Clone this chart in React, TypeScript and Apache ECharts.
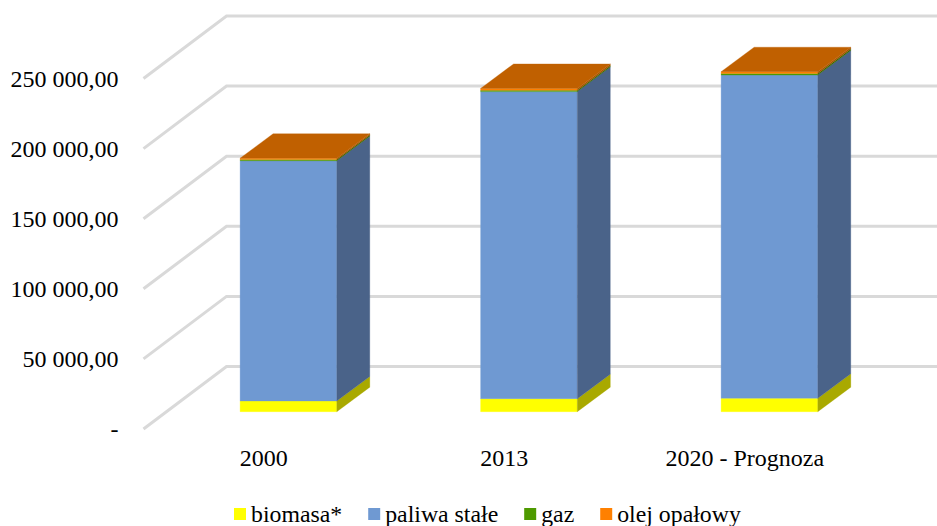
import React, { useEffect, useRef } from "react";
import * as echarts from "echarts";

const categories = ["2000", "2013", "2020 - Prognoza"];
const biomasa = [7600, 9300, 9600];
const paliwaStale = [171400, 219000, 230500];
const gaz = [800, 1000, 1200];
const olej = [1000, 1300, 1200];
const seriesNames = ["biomasa*", "paliwa stałe", "gaz", "olej opałowy"];
const seriesColors = ["#ffff00", "#6f99d2", "#4e9a00", "#ff8000"];
const sideColors = ["#a9a900", "#4a6389", "#356800", "#a95500"];
const topColors = ["#bfbf00", "#5373a0", "#3a7400", "#c06000"];
const gridValues = [0, 50000, 100000, 150000, 200000, 250000];
const tickLabels = ["-", "50 000,00", "100 000,00", "150 000,00", "200 000,00", "250 000,00"];

const FONT = "'Liberation Serif', 'Times New Roman', serif";
const WALL_DX = 83;
const WALL_DY = -62.5;
const BAR_OFF_X = 24.7;
const BAR_OFF_Y = -17.3;
const BAR_DEPTH_X = 33;
const BAR_DEPTH_Y = -24.5;
const BAR_RATIO = 0.402;

export default function App() {
  const ref = useRef<HTMLDivElement>(null);
  useEffect(() => {
    if (!ref.current) return;
    const chart = echarts.init(ref.current, undefined, { renderer: "svg" });
    const all = [biomasa, paliwaStale, gaz, olej];
    const series: any[] = [
      {
        type: "custom",
        silent: true,
        z: 1,
        data: gridValues.map((v) => [0, v]),
        encode: { x: 0, y: 1 },
        renderItem: (params: any, api: any) => {
          const cs = params.coordSys;
          const y = api.coord([0, api.value(1)])[1];
          return {
            type: "polyline",
            shape: {
              points: [
                [cs.x, y],
                [cs.x + WALL_DX, y + WALL_DY],
                [cs.x + cs.width + WALL_DX, y + WALL_DY],
              ],
            },
            style: { fill: "none", stroke: "#d9d9d9", lineWidth: 3 },
          };
        },
      },
    ];
    all.forEach((vals, si) => {
      series.push({
        type: "custom",
        name: seriesNames[si],
        z: 2 + si,
        itemStyle: { color: seriesColors[si] },
        data: vals.map((v, i) => {
          let base = 0;
          for (let k = 0; k < si; k++) base += all[k][i];
          return [i, base + v, base];
        }),
        encode: { x: 0, y: 1 },
        renderItem: (_p: any, api: any) => {
          const i = api.value(0);
          const t = api.coord([i, api.value(1)]);
          const b = api.coord([i, api.value(2)]);
          const w = api.size([1, 0])[0] * BAR_RATIO;
          const x0 = t[0] + BAR_OFF_X - w / 2;
          const x1 = x0 + w;
          const yt = t[1] + BAR_OFF_Y;
          const yb = b[1] + BAR_OFF_Y;
          const poly = (points: number[][], fill: string) => ({
            type: "polygon",
            shape: { points },
            style: { fill, stroke: fill, lineWidth: 0.3 },
          });
          const children: any[] = [
            poly([[x0, yb], [x1, yb], [x1, yt], [x0, yt]], seriesColors[si]),
            poly(
              [
                [x1, yb],
                [x1 + BAR_DEPTH_X, yb + BAR_DEPTH_Y],
                [x1 + BAR_DEPTH_X, yt + BAR_DEPTH_Y],
                [x1, yt],
              ],
              sideColors[si]
            ),
          ];
          if (si === all.length - 1) {
            children.push(
              poly(
                [
                  [x0, yt],
                  [x1, yt],
                  [x1 + BAR_DEPTH_X, yt + BAR_DEPTH_Y],
                  [x0 + BAR_DEPTH_X, yt + BAR_DEPTH_Y],
                ],
                topColors[si]
              )
            );
          }
          return { type: "group", children };
        },
      });
    });
    chart.setOption({
      animation: false,
      backgroundColor: "#ffffff",
      grid: { left: 143.5, top: 78.5, width: 721.5, height: 350.5 },
      xAxis: {
        type: "category",
        data: categories,
        axisLine: { show: false },
        axisTick: { show: false },
        splitLine: { show: false },
        axisLabel: { color: "#000000", fontFamily: FONT, fontSize: 24, margin: 17 },
      },
      yAxis: {
        type: "value",
        min: 0,
        max: 250000,
        interval: 50000,
        axisLine: { show: false },
        axisTick: { show: false },
        splitLine: { show: false },
        axisLabel: {
          color: "#000000",
          fontFamily: FONT,
          fontSize: 24,
          margin: 25,
          padding: [2, 0, 0, 0],
          formatter: (v: number) => tickLabels[gridValues.indexOf(v)] ?? "",
        },
      },
      legend: {
        data: seriesNames,
        left: 234,
        top: 502,
        icon: "rect",
        itemWidth: 12,
        itemHeight: 12,
        itemGap: 26,
        padding: 0,
        selectedMode: false,
        textStyle: { color: "#000000", fontFamily: FONT, fontSize: 23.8, padding: 0 },
      },
      series,
    });
    return () => chart.dispose();
  }, []);
  return (
    <div
      ref={ref}
      style={{ position: "fixed", left: 0, top: 0, width: 937, height: 526, overflow: "hidden" }}
    />
  );
}
